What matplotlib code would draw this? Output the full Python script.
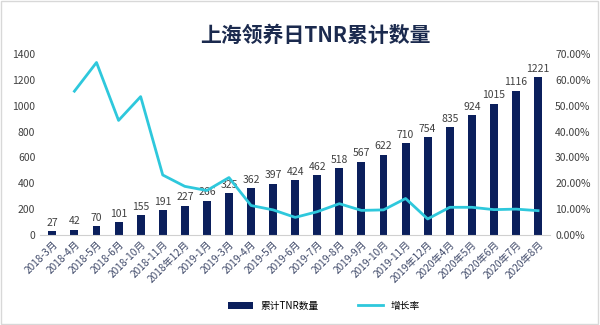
import numpy as np
import matplotlib
matplotlib.use("Agg")
import matplotlib.pyplot as plt
from matplotlib.ticker import FuncFormatter

plt.rcParams['font.family'] = ['Noto Sans CJK SC', 'DejaVu Sans']

months = ['2018-3月', '2018-4月', '2018-5月', '2018-6月', '2018-10月', '2018-11月',
          '2018年12月', '2019-1月', '2019-3月', '2019-4月', '2019-5月', '2019-6月',
          '2019-7月', '2019-8月', '2019-9月', '2019-10月', '2019-11月', '2019年12月',
          '2020年4月', '2020年5月', '2020年6月', '2020年7月', '2020年8月']
total_tnr = [27, 42, 70, 101, 155, 191, 227, 266, 325, 362, 397, 424,
             462, 518, 567, 622, 710, 754, 835, 924, 1015, 1116, 1221]
# growth rate (%), no value for the first month
growth = [np.nan, 55.6, 66.7, 44.3, 53.5, 23.2, 18.8, 17.2, 22.2, 11.4, 9.7, 6.8,
          9.0, 12.1, 9.5, 9.7, 14.1, 6.2, 10.7, 10.7, 9.8, 10.0, 9.4]

navy = '#0b1f5c'
cyan = '#2ec8dc'

fig = plt.figure(figsize=(6, 3.25), dpi=100)
ax = fig.add_axes([0.067, 0.277, 0.85, 0.557])
ax2 = ax.twinx()

x = np.arange(len(months))
bars = ax.bar(x, total_tnr, width=0.36, color=navy, label='累计TNR数量', zorder=2)
for xi, v in zip(x, total_tnr):
    ax.text(xi, v + 25, str(v), ha='center', va='bottom', fontsize=7.5, color='#404040')

line, = ax2.plot(x, growth, color=cyan, lw=2, label='增长率', zorder=3)

ax.set_xlim(-0.55, len(months) - 0.45)
ax.set_ylim(0, 1400)
ax.set_yticks(range(0, 1401, 200))
ax2.set_ylim(0, 70)
ax2.set_yticks(range(0, 71, 10))
ax2.yaxis.set_major_formatter(FuncFormatter(lambda v, p: f'{v:.2f}%'))

ax.set_xticks(x)
ax.set_xticklabels(months, rotation=45, ha='right', rotation_mode='anchor',
                   fontsize=7.3, color='#404a6a')
for a in (ax, ax2):
    for s in a.spines.values():
        s.set_visible(False)
    a.tick_params(length=0, labelsize=7.5, colors='#404040')
ax.tick_params(axis='x', labelsize=7.3, colors='#404a6a', pad=3)
ax.spines['bottom'].set_visible(True)
ax.spines['bottom'].set_color('#d0d0d0')

fig.text(0.525, 0.89, '上海领养日TNR累计数量', ha='center', va='center',
         fontsize=15, fontweight='bold', color='#1b2a4e')

fig.legend(handles=[bars, line], loc='center', bbox_to_anchor=(0.54, 0.06), ncol=2,
           frameon=False, fontsize=7, handlelength=2.6, columnspacing=4)

border = plt.Rectangle((0.002, 0.003), 0.995, 0.993, transform=fig.transFigure,
                       fill=False, edgecolor='#d8d8d8', lw=1)
fig.patches.append(border)

fig.savefig('out.png', dpi=100)
